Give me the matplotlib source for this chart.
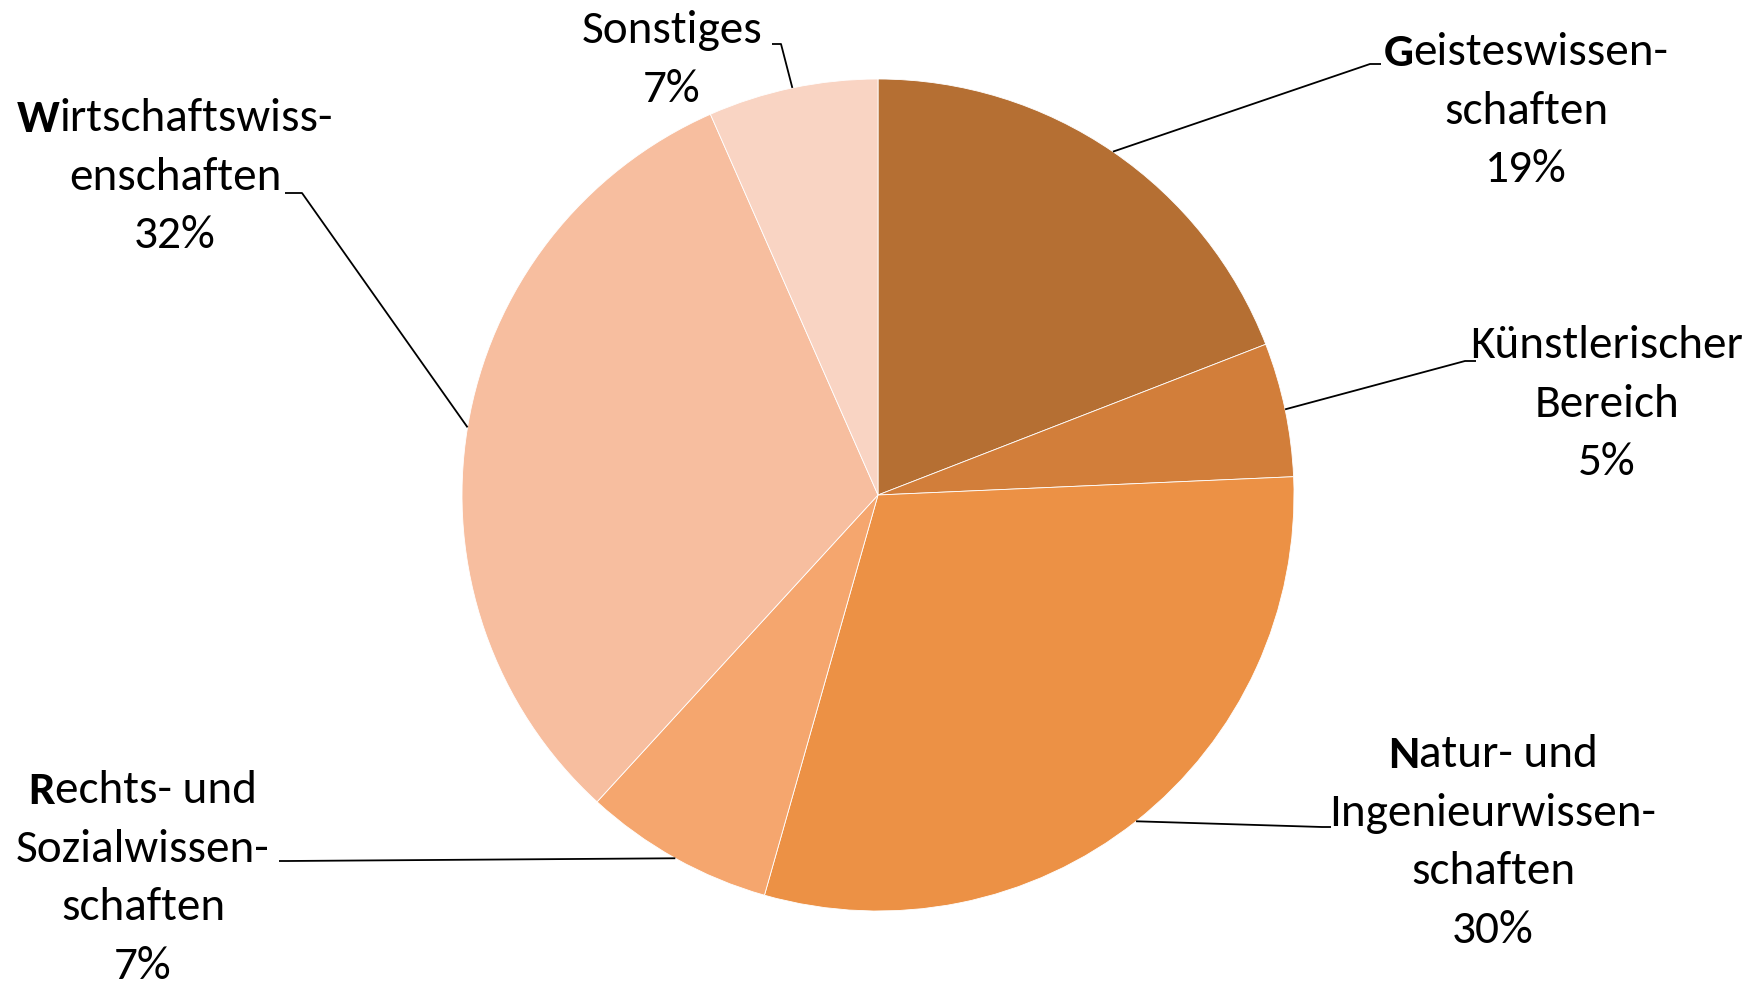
import numpy as np
import matplotlib
matplotlib.use("Agg")
from matplotlib import pyplot as plt

# data
labels = [["Geisteswissen-", "schaften"],
          ["Künstlerischer", "Bereich"],
          ["Natur- und", "Ingenieurwissen-", "schaften"],
          ["Rechts- und", "Sozialwissen-", "schaften"],
          ["Wirtschaftswiss-", "enschaften"],
          ["Sonstiges"]]
bold_first = [True, False, True, True, True, False]
values = [19.1, 5.2, 30.1, 7.4, 31.6, 6.6]
colors = ["#B56F33", "#D27E3A", "#EC9145", "#F5A66E", "#F7BE9F", "#F9D4C3"]

W, H = 1762, 987
FS = 34
LS = 58.5
plt.rcParams['font.family'] = ['Carlito', 'Liberation Sans Narrow', 'Lato', 'DejaVu Sans']

fig = plt.figure(figsize=(W / 100, H / 100), dpi=100)
ax = fig.add_axes([0, 0, 1, 1])
cx, cy, R = 878, H - 496, 416
wedges, _ = ax.pie(values, colors=colors, startangle=90, counterclock=False,
                   center=(cx, cy), radius=R, frame=True,
                   wedgeprops=dict(edgecolor='white', linewidth=0.6))
ax.set_xlim(0, W)
ax.set_ylim(0, H)
ax.set_aspect('equal')
ax.axis('off')

renderer = fig.canvas.get_renderer()


def draw_line(x, y, text, bold):
    if not bold:
        ax.text(x, y, text, ha='center', va='center', fontsize=FS)
        return
    b = ax.text(0, 0, text[0], fontweight='bold', fontsize=FS, va='center', ha='left')
    r = ax.text(0, 0, text[1:], fontsize=FS, va='center', ha='left')
    wb = b.get_window_extent(renderer).width
    wr = r.get_window_extent(renderer).width
    left = x - (wb + wr) / 2
    b.set_position((left, y))
    r.set_position((left + wb, y))


# label block: centre x, first line y (from top), anchor of leader, elbow
pos = [(1526, 53, (1381, 65), (1370, 65)),
       (1607, 346, (1476, 362), (1465, 362)),
       (1493, 755, (1331, 828), (1322, 828)),
       (143, 791, (279, 862), (288, 862)),
       (175, 119, (285, 194), (302, 194)),
       (672, 31, (772, 45), (781, 45))]

for i, w in enumerate(wedges):
    x, y0, anc, elb = pos[i]
    lines = labels[i] + ["%d%%" % round(values[i])]
    for k, t in enumerate(lines):
        draw_line(x, H - (y0 + k * LS), t, bold_first[i] and k == 0)
    mid = np.deg2rad((w.theta1 + w.theta2) / 2)
    ex, ey = cx + R * np.cos(mid), cy + R * np.sin(mid)
    ax.plot([anc[0], elb[0], ex], [H - anc[1], H - elb[1], ey],
            color='black', lw=1.3, solid_capstyle='butt')

fig.savefig('out.png', dpi=100, facecolor='white')
